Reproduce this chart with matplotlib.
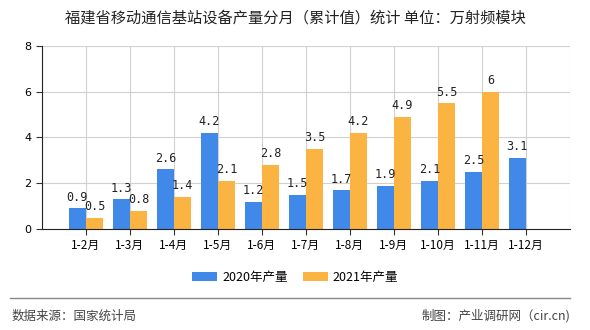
import matplotlib
matplotlib.use("Agg")
import matplotlib.pyplot as plt
import numpy as np

plt.rcParams['font.family'] = ['Noto Sans CJK SC', 'DejaVu Sans']

# data
months = ['1-2月', '1-3月', '1-4月', '1-5月', '1-6月', '1-7月',
          '1-8月', '1-9月', '1-10月', '1-11月', '1-12月']
vals_2020 = [0.9, 1.3, 2.6, 4.2, 1.2, 1.5, 1.7, 1.9, 2.1, 2.5, 3.1]
vals_2021 = [0.5, 0.8, 1.4, 2.1, 2.8, 3.5, 4.2, 4.9, 5.5, 6, None]
y_ticks = [0, 2, 4, 6, 8]

BLUE = '#4189E8'
ORANGE = '#FBB442'

fig = plt.figure(figsize=(5.9, 3.3), dpi=100)
ax = fig.add_axes([0.071, 0.306, 0.895, 0.555])

x = np.arange(len(months))
w = 0.39

# grid behind bars
for gx in range(-1, len(months) + 1):
    ax.axvline(gx, color='#d0d0d0', lw=0.8, zorder=0)
for gy in y_ticks[1:]:
    ax.axhline(gy, color='#d0d0d0', lw=0.8, zorder=0)

b20 = ax.bar(x - w / 2, vals_2020, w, color=BLUE, label='2020年产量', zorder=2)
x21 = [i for i, v in enumerate(vals_2021) if v is not None]
v21 = [v for v in vals_2021 if v is not None]
b21 = ax.bar(np.array(x21) + w / 2, v21, w, color=ORANGE, label='2021年产量', zorder=2)

def fmt(v):
    return str(int(v)) if float(v).is_integer() else str(v)

for xi, v in zip(x, vals_2020):
    ax.text(xi - w / 2, v + 0.2, fmt(v), ha='center', va='bottom',
            fontsize=8.5, family='DejaVu Sans Mono', color='#222222')
for xi, v in zip(x21, v21):
    ax.text(xi + w / 2, v + 0.2, fmt(v), ha='center', va='bottom',
            fontsize=8.5, family='DejaVu Sans Mono', color='#222222')

ax.set_xlim(-1, len(months))
ax.set_ylim(0, 8)
ax.set_xticks(x)
ax.set_xticklabels(months, fontsize=8.5)
ax.set_yticks(y_ticks)
ax.set_yticklabels([str(t) for t in y_ticks], fontsize=8, family='DejaVu Sans')
ax.tick_params(axis='both', length=4, width=0.8, color='#333333')
ax.spines['top'].set_visible(False)
ax.spines['right'].set_visible(False)
for s in ('left', 'bottom'):
    ax.spines[s].set_color('#222222')

fig.text(0.5, 0.945, '福建省移动通信基站设备产量分月（累计值）统计 单位：万射频模块',
         ha='center', va='center', fontsize=11, color='#222222')

fig.legend(handles=[b20, b21], loc='center', bbox_to_anchor=(0.5, 0.16),
           ncol=2, frameon=False, fontsize=9, handlelength=2.0,
           handleheight=0.8, handletextpad=0.4, columnspacing=1.2)

fig.add_artist(plt.Line2D([0.017, 0.966], [0.097, 0.097], color='#888888', lw=1,
                          transform=fig.transFigure))
fig.text(0.02, 0.042, '数据来源：国家统计局', ha='left', va='center',
         fontsize=9, color='#444444')
fig.text(0.966, 0.042, '制图：产业调研网（cir.cn)', ha='right', va='center',
         fontsize=9, color='#444444')

fig.savefig('out.png', dpi=100)
